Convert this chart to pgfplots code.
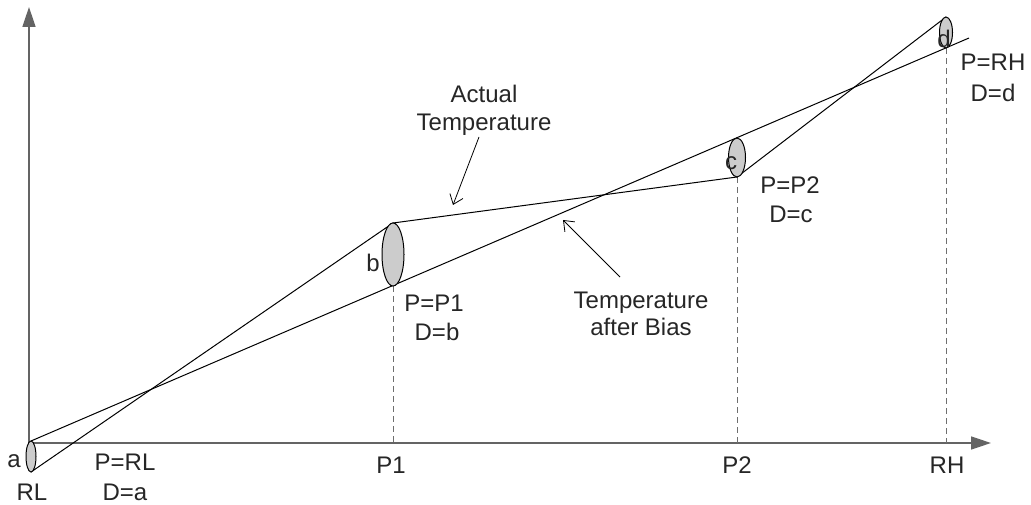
\documentclass[border=0pt]{standalone}
\usepackage{pgfplots}
\pgfplotsset{compat=1.18}
\usepackage{fontspec}
\setmainfont{Liberation Sans}
\usetikzlibrary{arrows.meta}

\definecolor{axisgray}{RGB}{100,100,100}
\definecolor{dashgray}{RGB}{110,110,110}
\definecolor{ellgray}{RGB}{204,204,204}

\newcommand{\lblfont}{\fontsize{24}{28}\selectfont}
\tikzset{lbl/.style={anchor=base, font=\lblfont, text=black!85, inner sep=0pt}}

% diagram in pixel units, y grows downwards
\begin{document}
\begin{tikzpicture}
\begin{axis}[
    name=ax,
    set layers=standard,
    scale only axis,
    width=1031pt, height=504pt,
    xmin=0, xmax=1031, ymin=0, ymax=504,
    y dir=reverse,
    hide axis,
    clip=false,
]
% axes
\addplot[axisgray, line width=1.5pt, -{Triangle[length=20pt,width=13pt]}, mark=none]
    coordinates {(29,443) (991,443)};
\addplot[axisgray, line width=1.5pt, -{Triangle[length=20pt,width=13pt]}, mark=none]
    coordinates {(29,443) (29,7)};

% dashed guides
\addplot[dashgray, line width=1pt, dash pattern=on 6pt off 4pt, mark=none]
    coordinates {(393,286) (393,443)};
\addplot[dashgray, line width=1pt, dash pattern=on 6pt off 4pt, mark=none]
    coordinates {(737,177) (737,443)};
\addplot[dashgray, line width=1pt, dash pattern=on 6pt off 4pt, mark=none]
    coordinates {(946,48) (946,443)};

% actual temperature
\addplot[black, line width=1pt, mark=none]
    coordinates {(31,472) (393,223) (737,177) (946,17)};
% temperature after bias
\addplot[black, line width=1pt, mark=none]
    coordinates {(31,441) (969,38)};

% tolerance ellipses
\addplot[scatter, only marks, mark=none,
    visualization depends on={value \thisrow{rx}\as\rx},
    visualization depends on={value \thisrow{ry}\as\ry},
    scatter/@pre marker code/.code={%
        \draw[fill=ellgray, draw=black, line width=1pt] (0,0) ellipse [x radius=\rx pt, y radius=\ry pt];},
    scatter/@post marker code/.code={},
] table {
x   y     rx   ry
31  456.5 5    15.5
393 254.5 11   31.5
737 157.5 8.5  19.5
946 32.5  6.5  15.5
};

% annotation arrows
\addplot[black, line width=0.8pt, -{Straight Barb[length=9pt,width=14pt]}, mark=none]
    coordinates {(479,137) (453,205)};
\addplot[black, line width=0.8pt, -{Straight Barb[length=9pt,width=14pt]}, mark=none]
    coordinates {(620,277) (563,220)};

% labels
\begin{pgfonlayer}{axis foreground}
\node[lbl] at (axis cs:14,467) {a};
\node[lbl] at (axis cs:32,500) {RL};
\node[lbl] at (axis cs:125,470) {P=RL};
\node[lbl] at (axis cs:125,500) {D=a};
\node[lbl] at (axis cs:391,473) {P1};
\node[lbl] at (axis cs:737,473) {P2};
\node[lbl] at (axis cs:947,473) {RH};
\node[lbl] at (axis cs:373,272) {b};
\node[lbl] at (axis cs:434,311) {P=P1};
\node[lbl] at (axis cs:437,340) {D=b};
\node[lbl] at (axis cs:731,170) {c};
\node[lbl] at (axis cs:790,194) {P=P2};
\node[lbl] at (axis cs:791,223) {D=c};
\node[lbl] at (axis cs:944,48) {d};
\node[lbl] at (axis cs:993,71) {P=RH};
\node[lbl] at (axis cs:993,102) {D=d};
\node[lbl] at (axis cs:484,103) {Actual};
\node[lbl] at (axis cs:484,131) {Temperature};
\node[lbl] at (axis cs:641,308) {Temperature};
\node[lbl] at (axis cs:641,336) {after Bias};
\end{pgfonlayer}
\end{axis}
\pgfresetboundingbox
\path (ax.south west) rectangle (ax.north east);
\end{tikzpicture}
\end{document}
